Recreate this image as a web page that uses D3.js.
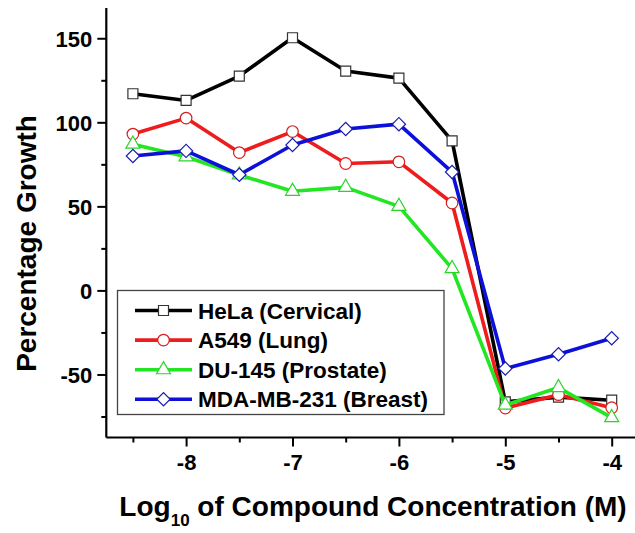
<!DOCTYPE html>
<html><head><meta charset="utf-8">
<script src="https://cdn.jsdelivr.net/npm/d3@7"></script>
<style>html,body{margin:0;padding:0;background:#fff;}svg{display:block;}text{font-family:"Liberation Sans",Arial,sans-serif;font-weight:bold;fill:#000;}</style>
</head><body>
<svg id="c" width="635" height="533"></svg>
<script>
const concentrations = [-8.5, -8, -7.5, -7, -6.5, -6, -5.5, -5, -4.5, -4];
const helaValues  = [117, 113, 127.5, 150.3, 130.5, 126.3, 89, -66.3, -63.5, -65.3];
const a549Values  = [93, 102.5, 82, 94.5, 75.5, 76.5, 52, -70, -62, -69.8];
const du145Values = [87, 79.5, 68.7, 59, 61.3, 50, 13, -68.2, -57.8, -75.7];
const mdaValues   = [80, 83, 68.8, 86.5, 96, 98.9, 70.4, -46.5, -38, -28.5];
const seriesNames = ["HeLa (Cervical)", "A549 (Lung)", "DU-145 (Prostate)", "MDA-MB-231 (Breast)"];
const yMajorTicks = [-50, 0, 50, 100, 150];
const yMinorTicks = [-75, -25, 25, 75, 125];
const xMajorTicks = [-8, -7, -6, -5, -4];
const xMinorTicks = [-8.5, -7.5, -6.5, -5.5, -4.5];

const colors = ["#000000", "#ee1c1c", "#22e622", "#0c10d8"];
const markerStroke = ["#333333", "#d42020", "#2bd42b", "#1a1ab0"];
const symbols = [d3.symbolSquare, d3.symbolCircle, d3.symbolTriangle, d3.symbolSquare];
const symbolSizes = [100, 105, 85, 88];
const symbolRotate = [0, 0, 0, 45];
const allValues = [helaValues, a549Values, du145Values, mdaValues];

const svg = d3.select("#c");
const x = d3.scaleLinear().domain([-8.75, -3.75]).range([106.3, 638.3]);
const y = d3.scaleLinear().domain([-87.5, 168]).range([437.5, 8]);
const fmt = d => String(d);

// series
const line = d3.line().x(d => x(d[0])).y(d => y(d[1]));
allValues.forEach((vals, i) => {
  const pts = concentrations.map((c, j) => [c, vals[j]]);
  svg.append("path").datum(pts).attr("d", line)
    .attr("fill", "none").attr("stroke", colors[i]).attr("stroke-width", 3.6)
    .attr("stroke-linejoin", "round");
  svg.selectAll(null).data(pts).enter().append("path")
    .attr("d", d3.symbol().type(symbols[i]).size(symbolSizes[i]))
    .attr("transform", d => `translate(${x(d[0])},${y(d[1])}) rotate(${symbolRotate[i]})`)
    .attr("fill", "#fff").attr("stroke", markerStroke[i]).attr("stroke-width", 1.2);
});

// axes
const yAxis = d3.axisLeft(y).tickValues(yMajorTicks).tickSize(9).tickPadding(5).tickFormat(fmt);
const gy = svg.append("g").attr("transform", `translate(${x(-8.75)},0)`).call(yAxis);
svg.append("g").attr("class", "minor").attr("transform", `translate(${x(-8.75)},0)`)
  .call(d3.axisLeft(y).tickValues(yMinorTicks).tickSize(5).tickFormat(""))
  .select(".domain").remove();
const xAxis = d3.axisBottom(x).tickValues(xMajorTicks).tickSize(9).tickPadding(8).tickFormat(fmt);
const gx = svg.append("g").attr("transform", `translate(0,${y(-87.5)})`).call(xAxis);
svg.append("g").attr("class", "minor").attr("transform", `translate(0,${y(-87.5)})`)
  .call(d3.axisBottom(x).tickValues(xMinorTicks).tickSize(5).tickFormat(""))
  .select(".domain").remove();
[gx, gy].forEach(g => {
  g.select(".domain").attr("stroke", "#000").attr("stroke-width", 2.2);
  g.selectAll(".tick text").style("font-size", "22px").style("font-weight", "bold")
    .style("font-family", '"Liberation Sans", Arial, sans-serif').attr("fill", "#000");
});
svg.selectAll(".tick line").attr("stroke", "#000").attr("stroke-width", 2);
gy.selectAll(".tick text").attr("dy", "0.36em");
gx.select(".domain").attr("d", `M${x(-8.75)},0H${x(-3.75)}`);
gy.select(".domain").attr("d", `M0,${y(168)}V${y(-87.5)}`);

// axis titles
const xt = svg.append("text").attr("x", 373).attr("y", 516).attr("text-anchor", "middle").style("font-size", "28px");
xt.append("tspan").text("Log");
xt.append("tspan").attr("dy", 10).style("font-size", "17px").text("10");
xt.append("tspan").attr("dy", -10).text(" of Compound Concentration (M)");
svg.append("text").attr("transform", "translate(36,243.5) rotate(-90)").attr("text-anchor", "middle")
  .style("font-size", "28px").text("Percentage Growth");

// legend
const lg = svg.append("g");
lg.append("rect").attr("x", 117.5).attr("y", 290.5).attr("width", 326.5).attr("height", 124)
  .attr("fill", "#fff").attr("stroke", "#444").attr("stroke-width", 1.3);
seriesNames.forEach((name, i) => {
  const ly = 310.5 + i * 29.6;
  lg.append("line").attr("x1", 135).attr("x2", 192).attr("y1", ly).attr("y2", ly)
    .attr("stroke", colors[i]).attr("stroke-width", 3.6);
  lg.append("path").attr("d", d3.symbol().type(symbols[i]).size(symbolSizes[i]))
    .attr("transform", `translate(163.5,${ly}) rotate(${symbolRotate[i]})`)
    .attr("fill", "#fff").attr("stroke", markerStroke[i]).attr("stroke-width", 1.2);
  lg.append("text").attr("x", 198).attr("y", ly + 8).style("font-size", "22.5px").text(name);
});
</script>
</body></html>
